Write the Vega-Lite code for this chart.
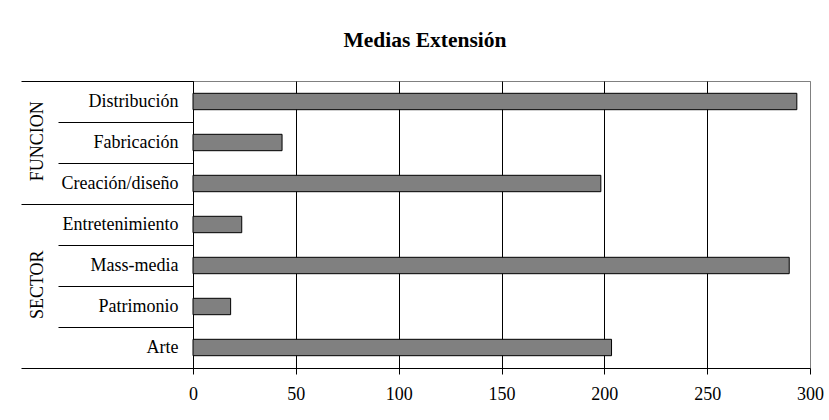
{
  "$schema": "https://vega.github.io/schema/vega-lite/v6.json",
  "autosize": {"type": "none"},
  "padding": {"left": 193, "top": 81, "right": 19, "bottom": 52},
  "width": 617,
  "height": 287,
  "background": "#ffffff",
  "title": {
    "text": "Medias Extensión",
    "font": "Liberation Serif",
    "fontSize": 21.5,
    "fontWeight": "bold",
    "color": "#000000",
    "anchor": "middle",
    "frame": "bounds",
    "offset": 21,
    "dx": 3
  },
  "data": {
    "values": [
      {"grupo": "FUNCION", "categoria": "Distribución", "valor": 293.6},
      {"grupo": "FUNCION", "categoria": "Fabricación", "valor": 43.3},
      {"grupo": "FUNCION", "categoria": "Creación/diseño", "valor": 198.3},
      {"grupo": "SECTOR", "categoria": "Entretenimiento", "valor": 23.7},
      {"grupo": "SECTOR", "categoria": "Mass-media", "valor": 289.9},
      {"grupo": "SECTOR", "categoria": "Patrimonio", "valor": 18.3},
      {"grupo": "SECTOR", "categoria": "Arte", "valor": 203.5}
    ]
  },
  "layer": [
    {
      "mark": {"type": "bar", "fill": "#808080", "stroke": "#000000", "strokeWidth": 1, "height": {"band": 0.4}},
      "encoding": {
        "y": {
          "field": "categoria",
          "type": "nominal",
          "sort": null,
          "scale": {"paddingInner": 0, "paddingOuter": 0},
          "axis": {
            "title": null,
            "tickBand": "extent",
            "grid": false,
            "domainColor": "#000000",
            "tickColor": "#000000",
            "tickWidth": 1,
            "tickSize": {
              "condition": {"test": "datum.extra || datum.value === 'Creación/diseño' || datum.value === 'Arte'", "value": 172},
              "value": 135
            },
            "labelPadding": {
              "condition": {"test": "datum.value === 'Creación/diseño' || datum.value === 'Arte'", "value": -157},
              "value": -120
            },
            "labelFont": "Liberation Serif",
            "labelFontSize": 18,
            "labelColor": "#000000",
            "labelLimit": 0
          }
        },
        "x": {
          "field": "valor",
          "type": "quantitative",
          "scale": {"domain": [0, 300], "nice": false},
          "axis": {
            "title": null,
            "values": [0, 50, 100, 150, 200, 250, 300],
            "domainColor": "#000000",
            "tickColor": "#000000",
            "tickSize": 6,
            "labelPadding": 11,
            "labelFont": "Liberation Serif",
            "labelFontSize": 18,
            "labelColor": "#000000",
            "labelFlush": false,
            "gridColor": {"condition": {"test": "datum.value === 300", "value": "#808080"}, "value": "#000000"},
            "gridOpacity": 1,
            "gridWidth": 1
          }
        }
      }
    },
    {
      "mark": {"type": "point", "opacity": 0},
      "encoding": {
        "y": {
          "field": "grupo",
          "type": "nominal",
          "sort": null,
          "scale": {"paddingInner": 0, "paddingOuter": 0},
          "axis": {
            "orient": "left",
            "title": null,
            "ticks": false,
            "domain": false,
            "grid": false,
            "labelAngle": -90,
            "labelAlign": "center",
            "labelBaseline": "alphabetic",
            "labelPadding": 151,
            "labelOffset": -12,
            "labelFont": "Liberation Serif",
            "labelFontSize": 18,
            "labelColor": "#000000"
          }
        },
        "x": {"field": "valor", "type": "quantitative"}
      }
    }
  ],
  "resolve": {"scale": {"y": "independent"}, "axis": {"y": "independent"}},
  "config": {
    "view": {"stroke": "#808080", "strokeWidth": 1},
    "axis": {"labelFont": "Liberation Serif"}
  }
}
